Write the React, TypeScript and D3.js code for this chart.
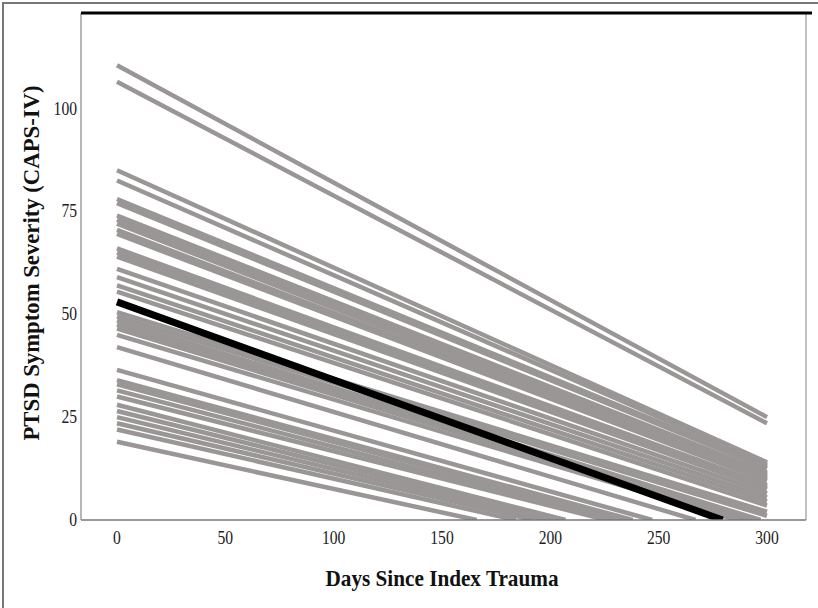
import React from "react";
import * as d3 from "d3";

// Individual trajectories: value at day 0, day at which 0 is reached (if before day 300), value at day 300
const startValues = [110.5, 106.5, 85, 82.5, 78, 77, 74, 73, 72, 70.5, 69.5, 66, 65, 64, 61, 59, 57, 55.5, 50.5, 49.5, 48.5, 47.5, 46.5, 45, 42, 36.5, 34, 33, 31.5, 30, 28, 26.5, 25, 23.5, 22, 19];
const zeroDay = [NaN, NaN, NaN, NaN, NaN, NaN, NaN, NaN, NaN, NaN, NaN, NaN, NaN, NaN, NaN, NaN, NaN, NaN, NaN, NaN, 297, 293, 290, 286, 267, 247, 238, 235, 230, 226, 207, 203, 198, 192, 184, 166];
const endValues = [25, 23.5, 14, 13.5, 13, 12.5, 11.5, 11, 10.5, 10, 9.5, 8.5, 8, 7.5, 6.5, 5.5, 4.5, 3.5, 2, 1, 0, 0, 0, 0, 0, 0, 0, 0, 0, 0, 0, 0, 0, 0, 0, 0];
const meanStart = 53;
const meanZeroDay = 279.5;

const xTicks = [0, 50, 100, 150, 200, 250, 300];
const yTicks = [0, 25, 50, 75, 100];

export default function App() {
  const W = 818, H = 608;
  const left = 81, right = 806, top = 13, bottom = 520;
  const x = d3.scaleLinear().domain([0, 300]).range([117, 767]);
  const y = d3.scaleLinear().domain([0, 100]).range([520, 108.5]);
  const line = d3.line<[number, number]>().x(d => x(d[0])).y(d => y(d[1]));

  const seg = (i: number): [number, number][] => {
    const s = startValues[i];
    if (!isNaN(zeroDay[i])) return [[0, s], [zeroDay[i], 0]];
    return [[0, s], [300, endValues[i]]];
  };

  const serif = "'Liberation Serif', 'DejaVu Serif', serif";
  const digitW = 7.8;
  return (
    <svg width={W} height={H} style={{ position: "absolute", left: 0, top: 0, background: "#fff" }}>
      <defs>
        <clipPath id="plot">
          <rect x={left} y={top} width={right - left} height={bottom - top} />
        </clipPath>
      </defs>
      <rect x={0} y={0} width={W} height={H} fill="#fff" />
      <line x1={3} y1={2} x2={3} y2={H} stroke="#777" strokeWidth={2} />
      <line x1={2} y1={3} x2={W} y2={3} stroke="#777" strokeWidth={2} />
      <g clipPath="url(#plot)">
        {startValues.map((_, i) => (
          <path key={i} d={line(seg(i)) || ""} fill="none" stroke="#9a9696" strokeWidth={4.5} />
        ))}
        <path d={line([[0, meanStart], [meanZeroDay, 0]]) || ""} fill="none" stroke="#000" strokeWidth={7} />
      </g>
      <line x1={left} y1={top} x2={left} y2={bottom} stroke="#888" strokeWidth={1.2} />
      <line x1={right} y1={top} x2={right} y2={bottom} stroke="#999" strokeWidth={1.2} />
      <line x1={left} y1={bottom} x2={right} y2={bottom} stroke="#777" strokeWidth={1.5} />
      <line x1={left} y1={top} x2={812} y2={top} stroke="#000" strokeWidth={3} />
      {xTicks.map(t => (
        <text key={t} x={x(t)} y={544} textAnchor="middle" fontFamily={serif} fontSize={19} fill="#222"
          textLength={String(t).length * digitW} lengthAdjust="spacingAndGlyphs">{t}</text>
      ))}
      {yTicks.map(t => (
        <text key={t} x={77} y={y(t) + 6} textAnchor="end" fontFamily={serif} fontSize={19} fill="#222"
          textLength={String(t).length * digitW} lengthAdjust="spacingAndGlyphs">{t}</text>
      ))}
      <text x={442} y={586} textAnchor="middle" fontFamily={serif} fontSize={23} fontWeight="bold" fill="#111"
        textLength={233} lengthAdjust="spacingAndGlyphs">Days Since Index Trauma</text>
      <text transform={`translate(39,263) rotate(-90)`} textAnchor="middle" fontFamily={serif} fontSize={23} fontWeight="bold" fill="#111"
        textLength={355} lengthAdjust="spacingAndGlyphs">PTSD Symptom Severity (CAPS-IV)</text>
    </svg>
  );
}
